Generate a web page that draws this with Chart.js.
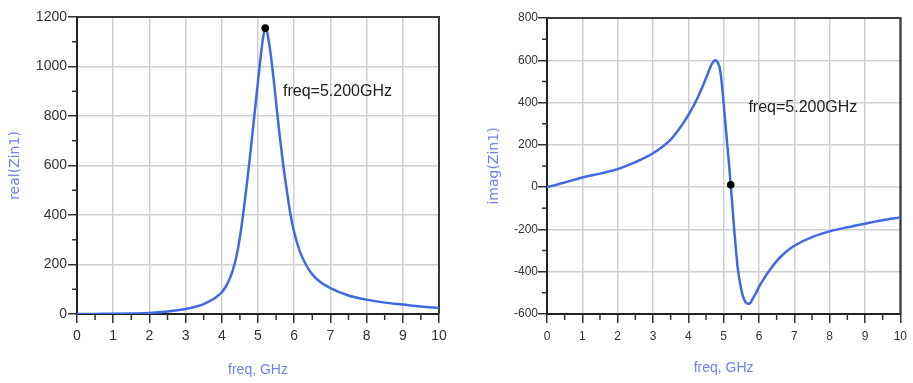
<!DOCTYPE html>
<html><head><meta charset="utf-8">
<script src="https://cdn.jsdelivr.net/npm/chart.js@4/dist/chart.umd.min.js"></script>
<style>
html,body{margin:0;padding:0;background:#fff;width:913px;height:383px;overflow:hidden}
canvas{position:absolute;top:0}
#c1{left:0}
#c2{left:460px}
</style></head><body>
<canvas id="c1" width="460" height="383"></canvas>
<canvas id="c2" width="453" height="383"></canvas>
<script>
// ---- data ----
const freqReal = [0,0.5,1,1.5,2,2.5,3,3.25,3.5,3.6,3.7,3.8,3.9,4,4.1,4.2,4.3,4.4,4.5,4.6,4.7,4.8,4.9,5.0,5.05,5.1,5.15,5.2,5.25,5.3,5.35,5.4,5.45,5.5,5.6,5.7,5.8,5.9,6,6.15,6.32,6.5,6.75,7,7.5,8,8.5,9,9.5,10];
const realZin1 = [0,0.5,1,2,4,10,20,28,40,47,55,64,75,88,108,136,175,230,310,415,535,665,803,940,1008,1072,1125,1155,1140,1100,1050,990,925,855,720,600,495,400,330,255,200,160,126,105,75,58,46,38,30,24];

const freqImag = [0,0.5,1,1.5,2,2.5,3,3.5,3.75,4,4.25,4.5,4.6,4.65,4.7,4.75,4.8,4.85,4.88,4.92,4.96,5.0,5.05,5.1,5.15,5.2,5.25,5.3,5.35,5.4,5.45,5.5,5.55,5.6,5.65,5.69,5.75,5.8,5.9,6,6.1,6.25,6.5,6.75,7,7.5,8,8.5,9,9.5,10];
const imagZin1 = [0,22,46,64,85,118,160,225,277,341,418,515,558,578,592,600,597,583,570,530,470,395,300,205,112,11,-95,-205,-300,-385,-440,-485,-518,-538,-550,-552,-548,-535,-505,-472,-443,-405,-350,-308,-277,-236,-209,-190,-173,-157,-143];

const markerFreq = [5.2];
const markerReal = [1155];
const markerImag = [11];

const xTicks = [0,1,2,3,4,5,6,7,8,9,10];
const xTickLabels = ['0','1','2','3','4','5','6','7','8','9','10'];
const xMinorTicks = [0.5,1.5,2.5,3.5,4.5,5.5,6.5,7.5,8.5,9.5];
const yTicksReal = [0,200,400,600,800,1000,1200];
const yTickLabelsReal = ['0','200','400','600','800','1000','1200'];
const yMinorReal = [100,300,500,700,900,1100];
const yTicksImag = [-600,-400,-200,0,200,400,600,800];
const yTickLabelsImag = ['-600','-400','-200','0','200','400','600','800'];
const yMinorImag = [-500,-300,-100,100,300,500,700];

const noteText = 'freq=5.200GHz';
const xTitle = 'freq, GHz';
const yTitleReal = 'real(Zin1)';
const yTitleImag = 'imag(Zin1)';

// ---- styles ----
const LINE = '#4169e1';
const TITLE = '#6f82ee';
const SANS = '"Liberation Sans",Arial,sans-serif';

const decor = {
  id: 'decor',
  beforeDatasetsDraw(chart, args, o) {
    const {ctx, chartArea: a, scales: {x, y}} = chart;
    ctx.save();
    ctx.strokeStyle = '#333';
    ctx.lineWidth = 1.5;
    ctx.beginPath();
    o.xMinor.forEach(v => { const p = x.getPixelForValue(v); ctx.moveTo(p, a.bottom); ctx.lineTo(p, a.bottom + o.xMinorLen); });
    o.yMinor.forEach(v => { const p = y.getPixelForValue(v); ctx.moveTo(a.left, p); ctx.lineTo(a.left - o.yMinorLen, p); });
    ctx.stroke();
    ctx.strokeStyle = '#3a3a3a';
    ctx.lineWidth = 2;
    ctx.beginPath();
    ctx.moveTo(a.left, a.top); ctx.lineTo(a.right, a.top); ctx.lineTo(a.right, a.bottom);
    ctx.stroke();
    ctx.restore();
  },
  afterDraw(chart, args, o) {
    const {ctx, scales: {x, y}} = chart;
    ctx.save();
    ctx.fillStyle = '#222';
    ctx.font = o.noteFont;
    ctx.textBaseline = 'middle';
    ctx.textAlign = 'left';
    ctx.fillText(o.note, x.getPixelForValue(o.noteX), y.getPixelForValue(o.noteY));
    ctx.restore();
  }
};

function makeChart(id, c) {
  const pts = c.xs.map((v, i) => ({x: v, y: c.ys[i]}));
  const mk = c.mx.map((v, i) => ({x: v, y: c.my[i]}));
  return new Chart(document.getElementById(id), {
    type: 'line',
    data: {datasets: [
      {data: mk, showLine: false, pointRadius: 3.8, pointBackgroundColor: '#000', pointBorderColor: '#000', pointBorderWidth: 0, order: 0},
      {data: pts, borderColor: LINE, borderWidth: 2.5, pointRadius: 0, cubicInterpolationMode: 'monotone', fill: false, order: 1}
    ]},
    options: {
      responsive: false, animation: false, devicePixelRatio: 1,
      layout: {padding: c.pad},
      plugins: {legend: {display: false}, tooltip: {enabled: false},
        decor: {xMinor: xMinorTicks, yMinor: c.yMinor, xMinorLen: 6, yMinorLen: 5,
                note: noteText, noteX: c.noteX, noteY: c.noteY, noteFont: c.noteFont}},
      scales: {
        x: {
          type: 'linear', min: 0, max: 10,
          afterBuildTicks: s => { s.ticks = xTicks.map(v => ({value: v})); },
          afterFit: s => { s.height = c.xH; },
          ticks: {callback: (v, i) => xTickLabels[i], color: '#333', padding: c.xPad, maxRotation: 0,
                  font: {family: SANS, size: c.tickSize}},
          grid: {color: ctx => (ctx.tick && ctx.tick.value === 10) ? '#3a3a3a' : '#cfcfcf', lineWidth: 1.5,
                 tickLength: 9, tickColor: '#333', tickWidth: 1.5},
          border: {display: true, color: '#222', width: 2},
          title: {display: true, text: xTitle, color: TITLE, font: {family: SANS, size: 14},
                  padding: {top: 0, bottom: c.xTitlePad}}
        },
        y: {
          type: 'linear', min: c.ymin, max: c.ymax,
          afterBuildTicks: s => { s.ticks = c.yTicks.map(v => ({value: v})); },
          afterFit: s => { s.width = c.yW; },
          ticks: {callback: (v, i) => c.yLabels[i], color: '#333', padding: c.yPad,
                  font: {family: SANS, size: c.tickSize}},
          grid: {color: ctx => (ctx.tick && ctx.tick.value === c.ymax) ? '#3a3a3a' : '#cfcfcf', lineWidth: 1.5,
                 tickLength: 9, tickColor: '#333', tickWidth: 1.5},
          border: {display: true, color: '#222', width: 2},
          title: {display: true, text: c.yTitle, color: TITLE, font: {family: '"DejaVu Sans",sans-serif', size: 14},
                  padding: {top: c.yTitlePad, bottom: 0}}
        }
      }
    },
    plugins: [decor]
  });
}

makeChart('c1', {
  xs: freqReal, ys: realZin1, mx: markerFreq, my: markerReal,
  pad: {left: 0, top: 17, right: 21, bottom: 0},
  xH: 69, yW: 77, ymin: 0, ymax: 1200, yTicks: yTicksReal, yLabels: yTickLabelsReal, yMinor: yMinorReal,
  tickSize: 14, xPad: 5, yPad: 1, xTitlePad: 4, yTitlePad: 7, yTitle: yTitleReal,
  noteX: 5.69, noteY: 898, noteFont: '16px ' + SANS
});

makeChart('c2', {
  xs: freqImag, ys: imagZin1, mx: markerFreq, my: markerImag,
  pad: {left: 0, top: 18, right: 5, bottom: 0},
  xH: 69, yW: 87, ymin: -600, ymax: 800, yTicks: yTicksImag, yLabels: yTickLabelsImag, yMinor: yMinorImag,
  tickSize: 12, xPad: 6, yPad: 0, xTitlePad: 6, yTitlePad: 26, yTitle: yTitleImag,
  noteX: 5.70, noteY: 376, noteFont: '16px ' + SANS
});
</script>
</body></html>
